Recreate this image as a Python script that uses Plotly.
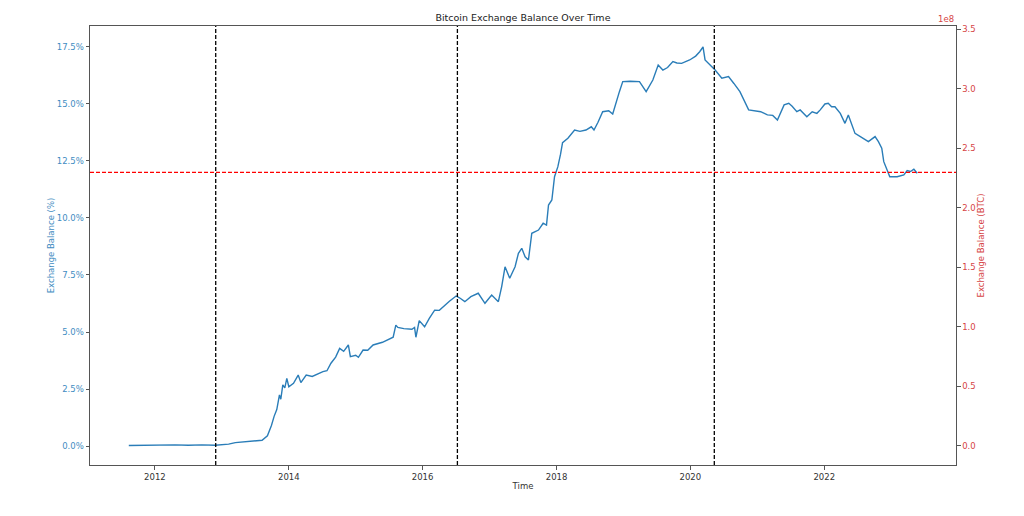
import plotly.graph_objects as go
import pandas as pd

# Decimal-year time stamps and exchange balance (% of supply)
years = [2011.61, 2011.8, 2012.0, 2012.3, 2012.5, 2012.7, 2012.9, 2013.1, 2013.2, 2013.35,
         2013.5, 2013.6, 2013.68, 2013.74, 2013.78, 2013.82, 2013.86, 2013.88, 2013.91, 2013.94,
         2013.97, 2014.0, 2014.07, 2014.14, 2014.18, 2014.26, 2014.35, 2014.45, 2014.51, 2014.57,
         2014.63, 2014.70, 2014.76, 2014.82, 2014.89, 2014.92, 2015.0, 2015.04, 2015.11, 2015.18,
         2015.26, 2015.40, 2015.56, 2015.60, 2015.63, 2015.72, 2015.84, 2015.88, 2015.90, 2015.95,
         2016.03, 2016.10, 2016.18, 2016.25, 2016.33, 2016.40, 2016.50, 2016.55, 2016.63, 2016.72,
         2016.83, 2016.93, 2017.03, 2017.13, 2017.18, 2017.23, 2017.30, 2017.38, 2017.43, 2017.48,
         2017.53, 2017.58, 2017.63, 2017.73, 2017.80, 2017.85, 2017.88, 2017.93, 2017.97, 2018.02,
         2018.06, 2018.09, 2018.17, 2018.27, 2018.35, 2018.44, 2018.52, 2018.56, 2018.62, 2018.69,
         2018.78, 2018.84, 2018.94, 2018.99, 2019.1, 2019.24, 2019.34, 2019.44, 2019.52, 2019.59,
         2019.66, 2019.74, 2019.80, 2019.87, 2019.99, 2020.08, 2020.14, 2020.19, 2020.22, 2020.30,
         2020.37, 2020.47, 2020.57, 2020.65, 2020.74, 2020.87, 2020.95, 2021.05, 2021.15, 2021.23,
         2021.30, 2021.40, 2021.47, 2021.52, 2021.59, 2021.64, 2021.74, 2021.82, 2021.89, 2021.94,
         2022.01, 2022.06, 2022.11, 2022.16, 2022.24, 2022.31, 2022.36, 2022.41, 2022.46, 2022.54,
         2022.66, 2022.76, 2022.81, 2022.86, 2022.89, 2022.94, 2022.98, 2023.09, 2023.19, 2023.24,
         2023.29, 2023.34, 2023.39]

balance_pct = [0.02, 0.03, 0.02, 0.05, 0.03, 0.05, 0.03, 0.08, 0.15, 0.18,
               0.20, 0.25, 0.45, 0.90, 1.30, 1.60, 2.24, 2.05, 2.68, 2.55,
               2.97, 2.60, 2.75, 3.11, 2.78, 3.11, 3.05, 3.20, 3.26, 3.30,
               3.63, 3.90, 4.28, 4.15, 4.43, 3.92, 3.98, 3.89, 4.21, 4.20,
               4.43, 4.55, 4.77, 5.30, 5.20, 5.15, 5.12, 5.20, 4.77, 5.50,
               5.23, 5.60, 5.96, 5.95, 6.18, 6.35, 6.58, 6.50, 6.33, 6.55,
               6.70, 6.26, 6.62, 6.33, 6.99, 7.86, 7.36, 7.86, 8.45, 8.67,
               8.30, 8.16, 9.33, 9.47, 9.77, 9.69, 10.57, 10.79, 11.81, 12.25,
               12.80, 13.30, 13.50, 13.86, 13.80, 13.86, 14.00, 13.86, 14.20, 14.66,
               14.70, 14.56, 15.54, 15.98, 16.00, 15.98, 15.54, 16.05, 16.71, 16.49,
               16.60, 16.86, 16.80, 16.78, 16.93, 17.10, 17.29, 17.50, 16.93, 16.70,
               16.49, 16.13, 16.20, 15.90, 15.54, 14.74, 14.70, 14.66, 14.52, 14.50,
               14.30, 14.96, 15.03, 14.90, 14.66, 14.74, 14.44, 14.66, 14.59, 14.74,
               15.00, 15.03, 14.88, 14.88, 14.59, 14.15, 14.52, 14.15, 13.71, 13.57,
               13.35, 13.57, 13.35, 13.06, 12.47, 12.10, 11.81, 11.81, 11.89, 12.08,
               12.04, 12.14, 11.96]

halving_dates = ["2012-11-28", "2016-07-09", "2020-05-11"]
threshold_pct = 12.0
x_ticks = ["2012-01-01", "2014-01-01", "2016-01-01", "2018-01-01", "2020-01-01", "2022-01-01"]
x_tick_text = ["2012", "2014", "2016", "2018", "2020", "2022"]
left_ticks = [0, 2.5, 5, 7.5, 10, 12.5, 15, 17.5]
left_tick_text = ["0.0%", "2.5%", "5.0%", "7.5%", "10.0%", "12.5%", "15.0%", "17.5%"]
right_ticks = [0.0, 0.5, 1.0, 1.5, 2.0, 2.5, 3.0, 3.5]
right_tick_text = ["0.0", "0.5", "1.0", "1.5", "2.0", "2.5", "3.0", "3.5"]


def to_date(y):
    yr = int(y)
    start = pd.Timestamp(year=yr, month=1, day=1)
    end = pd.Timestamp(year=yr + 1, month=1, day=1)
    return start + (end - start) * (y - yr)


dates = [to_date(y) for y in years]

BLUE = "#2a7db8"
BLUE_TXT = "#3f8cc2"
RED_TXT = "#d64545"
FONT = "DejaVu Sans"

fig = go.Figure()
fig.add_trace(go.Scatter(x=dates, y=balance_pct, mode="lines",
                         line=dict(color=BLUE, width=1.4), showlegend=False,
                         hoverinfo="x+y"))
fig.add_trace(go.Scatter(x=[], y=[], yaxis="y2", showlegend=False))

for d in halving_dates:
    fig.add_shape(type="line", xref="x", yref="paper", x0=d, x1=d, y0=0, y1=1,
                  line=dict(color="black", width=1.3, dash="4px,2px"))
fig.add_shape(type="line", xref="paper", yref="y", x0=0, x1=1,
              y0=threshold_pct, y1=threshold_pct,
              line=dict(color="red", width=1.3, dash="4px,2px"))

fig.update_layout(
    width=1024, height=516,
    margin=dict(l=90, r=68, t=26, b=51),
    paper_bgcolor="white", plot_bgcolor="white",
    font=dict(family=FONT, size=8.5, color="#333"),
    title=dict(text="Bitcoin Exchange Balance Over Time", x=0.5107, xref="container",
               xanchor="center", y=1 - 18 / 516, yanchor="middle",
               font=dict(family=FONT, size=9.5, color="#222")),
    xaxis=dict(range=[to_date(2011.03), to_date(2023.97)], tickvals=x_ticks,
               ticktext=x_tick_text, showgrid=False, zeroline=False,
               showline=True, linecolor="#555", linewidth=1, mirror=True,
               ticks="outside", ticklen=3.5, tickcolor="#555",
               tickfont=dict(family=FONT, size=8.5, color="#333"),
               title=dict(text="Time", standoff=2,
                          font=dict(family=FONT, size=8.5, color="#333"))),
    yaxis=dict(range=[-0.833, 18.42], tickvals=left_ticks, ticktext=left_tick_text,
               showgrid=False, zeroline=False,
               showline=True, linecolor="#555", linewidth=1,
               ticks="outside", ticklen=3.5, tickcolor="#555",
               tickfont=dict(family=FONT, size=8.5, color=BLUE_TXT),
               title=dict(text="Exchange Balance (%)", standoff=0,
                          font=dict(family=FONT, size=8.5, color=BLUE_TXT))),
    yaxis2=dict(range=[-0.16, 3.528], tickvals=right_ticks, ticktext=right_tick_text,
                overlaying="y", side="right", anchor="x", showgrid=False,
                zeroline=False, showline=True, linecolor="#555", linewidth=1,
                ticks="outside", ticklen=3.5, tickcolor="#555",
                tickfont=dict(family=FONT, size=8.5, color=RED_TXT),
                title=dict(text="Exchange Balance (BTC)", standoff=1,
                           font=dict(family=FONT, size=8.5, color=RED_TXT))),
)

fig.add_annotation(text="1e8", xref="paper", yref="paper", x=1, y=1,
                   xanchor="right", yanchor="bottom", yshift=0, showarrow=False,
                   font=dict(family=FONT, size=8.5, color=RED_TXT))

fig.write_html("out.html")
